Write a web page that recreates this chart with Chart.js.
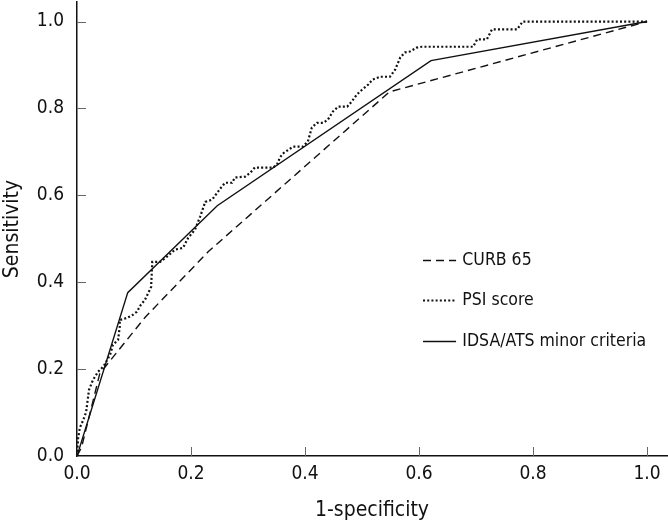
<!DOCTYPE html>
<html>
<head>
<meta charset="utf-8">
<script src="https://cdn.jsdelivr.net/npm/chart.js@4.4.1/dist/chart.umd.min.js"></script>
<style>
  html, body { margin: 0; padding: 0; background: #fff; }
  #wrap { width: 668px; height: 525px; position: relative; }
</style>
</head>
<body>
<div id="wrap"><canvas id="c" width="668" height="525"></canvas></div>
<script>
// ---- data ----
const seriesNames = ["CURB 65", "PSI score", "IDSA/ATS minor criteria"];

const curbFpr = [0, 0.008, 0.04, 0.12, 0.23, 0.548, 1.0];
const curbTpr = [0, 0.02, 0.19, 0.32, 0.47, 0.838, 1.0];

const psiFpr = [0, 0.002, 0.005, 0.011, 0.016, 0.021, 0.028, 0.037, 0.047, 0.058, 0.063, 0.072, 0.075, 0.075,
  0.088, 0.096, 0.105, 0.112, 0.119, 0.130, 0.132, 0.146, 0.158, 0.172, 0.186, 0.195, 0.207, 0.216, 0.225,
  0.237, 0.246, 0.254, 0.260, 0.272, 0.277, 0.295, 0.304, 0.312, 0.344, 0.351, 0.356, 0.361, 0.379, 0.396,
  0.405, 0.412, 0.421, 0.432, 0.440, 0.449, 0.458, 0.474, 0.482, 0.491, 0.500, 0.511, 0.518, 0.532, 0.549,
  0.558, 0.567, 0.575, 0.584, 0.596, 0.605, 0.695, 0.702, 0.719, 0.728, 0.772, 0.782, 1.0];
const psiTpr = [0, 0.041, 0.065, 0.083, 0.101, 0.152, 0.175, 0.194, 0.207, 0.233, 0.256, 0.267, 0.297, 0.313,
  0.318, 0.323, 0.332, 0.348, 0.359, 0.389, 0.447, 0.447, 0.459, 0.475, 0.479, 0.502, 0.521, 0.551, 0.585,
  0.590, 0.606, 0.620, 0.629, 0.629, 0.641, 0.643, 0.652, 0.664, 0.664, 0.671, 0.687, 0.696, 0.712, 0.712,
  0.724, 0.756, 0.767, 0.767, 0.774, 0.793, 0.804, 0.804, 0.816, 0.832, 0.843, 0.855, 0.866, 0.873, 0.873,
  0.889, 0.917, 0.929, 0.931, 0.940, 0.942, 0.942, 0.959, 0.959, 0.982, 0.982, 1.0, 1.0];

const idsaFpr = [0, 0.089, 0.246, 0.621, 1.0];
const idsaTpr = [0, 0.376, 0.576, 0.910, 1.0];

const xTickValues = [0, 0.2, 0.4, 0.6, 0.8, 1.0];
const yTickValues = [0, 0.2, 0.4, 0.6, 0.8, 1.0];
const xTitle = "1-specificity";
const yTitle = "Sensitivity";

// ---- chart ----
const FONT = '"Liberation Sans Narrow", "DejaVu Sans Condensed", "Roboto Condensed", "Liberation Sans", sans-serif';
const toPts = (xs, ys) => xs.map((x, i) => ({ x: x, y: ys[i] }));

const styles = [
  { borderDash: [8, 5], borderWidth: 1.4 },
  { borderDash: [2, 2.2], borderWidth: 2.2 },
  { borderDash: [], borderWidth: 1.4 }
];

const datasets = [
  toPts(curbFpr, curbTpr),
  toPts(psiFpr, psiTpr),
  toPts(idsaFpr, idsaTpr)
].map((d, i) => ({
  label: seriesNames[i],
  data: d,
  borderColor: '#111',
  backgroundColor: '#111',
  borderWidth: styles[i].borderWidth,
  borderDash: styles[i].borderDash,
  pointRadius: 0,
  fill: false,
  tension: 0,
  showLine: true
}));

// Inward tick marks, drawn from each scale's own ticks
const inwardTicks = {
  id: 'inwardTicks',
  afterDraw(chart) {
    const ctx = chart.ctx;
    const xs = chart.scales.x, ys = chart.scales.y;
    const len = 9;
    ctx.save();
    ctx.strokeStyle = '#666';
    ctx.lineWidth = 1;
    ctx.beginPath();
    xs.ticks.forEach(t => {
      if (t.value === 0) return;
      const px = Math.round(xs.getPixelForValue(t.value)) + 0.5;
      ctx.moveTo(px, xs.top);
      ctx.lineTo(px, xs.top - len);
    });
    ys.ticks.forEach(t => {
      if (t.value === 0) return;
      const py = Math.round(ys.getPixelForValue(t.value)) + 0.5;
      ctx.moveTo(ys.right, py);
      ctx.lineTo(ys.right + len, py);
    });
    ctx.stroke();
    ctx.restore();
  }
};

// Legend drawn inside the plot area (positions relative to scales)
const innerLegend = {
  id: 'innerLegend',
  afterDatasetsDraw(chart) {
    const ctx = chart.ctx;
    const xs = chart.scales.x, ys = chart.scales.y;
    const lx0 = xs.getPixelForValue(0.607);
    const lx1 = xs.getPixelForValue(0.665);
    const tx = xs.getPixelForValue(0.676);
    const rows = [0.45, 0.358, 0.264];
    ctx.save();
    chart.data.datasets.forEach((ds, i) => {
      const y = Math.round(ys.getPixelForValue(rows[i])) + 0.5;
      ctx.beginPath();
      ctx.strokeStyle = ds.borderColor;
      ctx.lineWidth = ds.borderWidth;
      ctx.setLineDash(ds.borderDash);
      ctx.moveTo(lx0, y);
      ctx.lineTo(lx1, y);
      ctx.stroke();
      ctx.setLineDash([]);
      ctx.fillStyle = '#111';
      ctx.font = '17.5px ' + FONT;
      ctx.textBaseline = 'middle';
      ctx.textAlign = 'left';
      ctx.fillText(ds.label, tx, y);
    });
    ctx.restore();
  }
};

new Chart(document.getElementById('c'), {
  type: 'scatter',
  data: { datasets: datasets },
  plugins: [innerLegend, inwardTicks],
  options: {
    responsive: false,
    animation: false,
    devicePixelRatio: 1,
    layout: { padding: { top: 2, right: 1, left: 0, bottom: 0 } },
    plugins: { legend: { display: false }, tooltip: { enabled: false } },
    scales: {
      x: {
        type: 'linear',
        min: 0, max: 1.035,
        afterBuildTicks: s => { s.ticks = xTickValues.map(v => ({ value: v })); },
        afterFit: s => { s.height = 69; s.paddingLeft = 0; s.paddingRight = 0; },
        ticks: {
          color: '#111',
          padding: 7,
          font: { family: FONT, size: 19 },
          callback: v => Number(v).toFixed(1),
          maxRotation: 0
        },
        grid: { display: false, drawOnChartArea: false, drawTicks: false, tickLength: 0 },
        border: { display: true, color: '#111', width: 1.5 },
        title: { display: true, text: xTitle, color: '#111', font: { family: FONT, size: 21 }, padding: { top: 0, bottom: 2 } }
      },
      y: {
        type: 'linear',
        min: 0, max: 1.045,
        afterBuildTicks: s => { s.ticks = yTickValues.map(v => ({ value: v })); },
        afterFit: s => { s.width = 77; s.paddingTop = 0; s.paddingBottom = 0; },
        ticks: {
          color: '#111',
          padding: 13,
          font: { family: FONT, size: 19 },
          callback: v => Number(v).toFixed(1)
        },
        grid: { display: false, drawOnChartArea: false, drawTicks: false, tickLength: 0 },
        border: { display: true, color: '#111', width: 1.5 },
        title: { display: true, text: yTitle, color: '#111', font: { family: FONT, size: 21 }, padding: { top: 0, bottom: 0 } }
      }
    }
  }
});
</script>
</body>
</html>
